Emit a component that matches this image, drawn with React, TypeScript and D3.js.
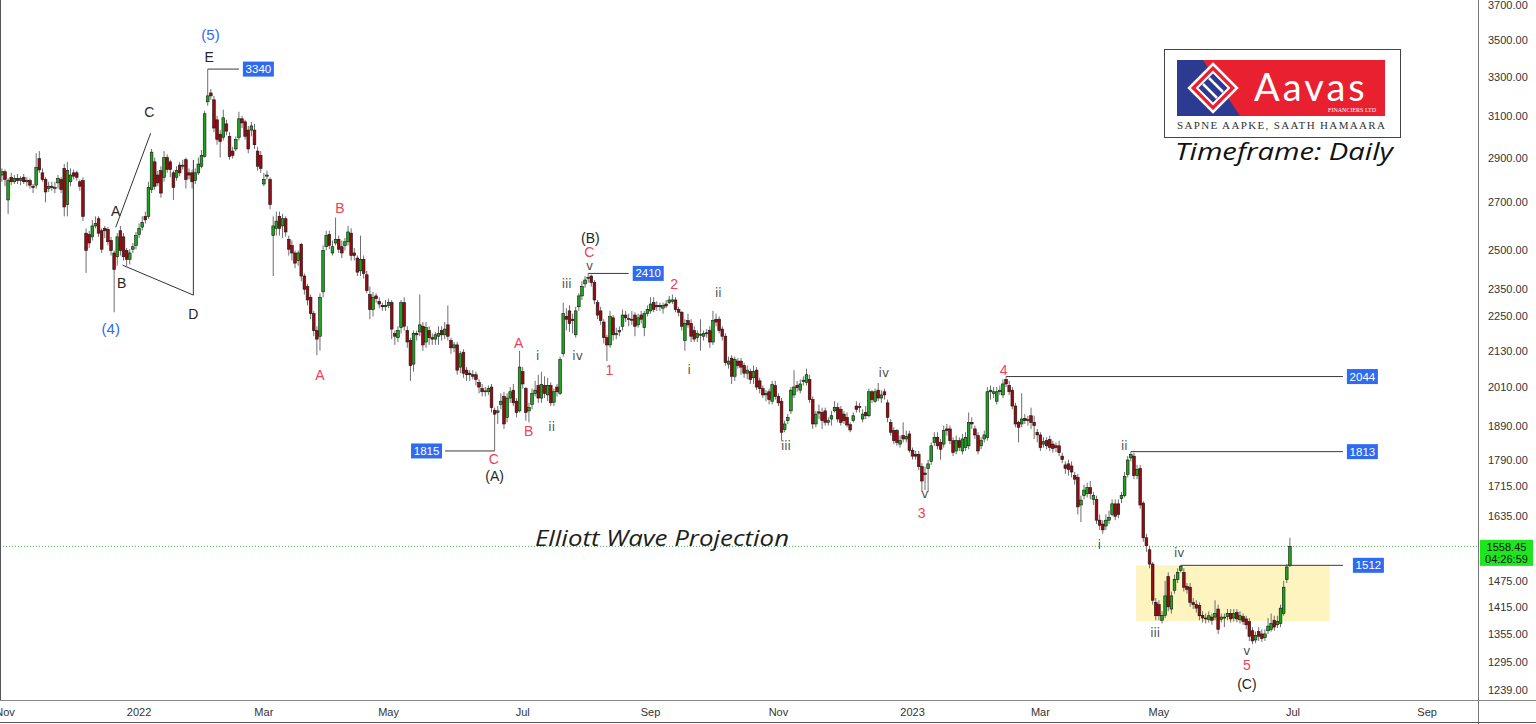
import * as d3 from 'd3'

const W = 1536
const H = 724
const PLOT_RIGHT = 1478
const AXIS_Y = 700

// daily candles [open, high, low, close]
// Nov–Dec 2021: sideways, then the first leg down
const seg1 = [
  [2820, 2850, 2790, 2835], [2835, 2845, 2770, 2800], [2710, 2805, 2650, 2795], [2810, 2830, 2775, 2790],
  [2790, 2820, 2780, 2805], [2805, 2825, 2780, 2795], [2795, 2815, 2775, 2805], [2810, 2825, 2780, 2790],
  [2790, 2810, 2770, 2795], [2795, 2805, 2760, 2775], [2770, 2780, 2740, 2765], [2775, 2920, 2760, 2855],
  [2895, 2930, 2830, 2843], [2830, 2850, 2790, 2800], [2800, 2810, 2700, 2745], [2760, 2790, 2745, 2770],
  [2770, 2790, 2750, 2765], [2760, 2790, 2740, 2765], [2785, 2820, 2760, 2805], [2800, 2810, 2740, 2755],
  [2850, 2870, 2640, 2680], [2690, 2880, 2640, 2840], [2790, 2850, 2770, 2820], [2830, 2845, 2800, 2815],
  [2830, 2840, 2795, 2810], [2790, 2800, 2750, 2770], [2795, 2810, 2620, 2640],
]
// Dec 2021 – Mar 2022: triangle, (5) top, first fall
const seg2 = [
  [2570, 2590, 2412, 2500], [2565, 2580, 2510, 2530], [2555, 2625, 2540, 2600], [2600, 2640, 2590, 2610],
  [2630, 2640, 2555, 2570], [2580, 2590, 2490, 2505], [2590, 2600, 2550, 2580], [2585, 2595, 2520, 2535],
  [2540, 2555, 2480, 2500], [2490, 2500, 2265, 2425], [2475, 2570, 2440, 2555], [2580, 2600, 2480, 2500],
  [2555, 2570, 2460, 2475], [2500, 2510, 2435, 2465], [2465, 2505, 2445, 2490], [2505, 2530, 2490, 2515],
  [2520, 2575, 2505, 2560], [2565, 2610, 2550, 2590], [2595, 2640, 2580, 2615], [2640, 2660, 2610, 2625],
  [2640, 2790, 2630, 2765], [2755, 2940, 2740, 2925], [2880, 2900, 2755, 2770], [2820, 2840, 2770, 2785],
  [2840, 2860, 2720, 2740], [2810, 2930, 2790, 2900], [2900, 2915, 2830, 2845], [2880, 2890, 2810, 2845],
  [2830, 2840, 2710, 2765], [2810, 2860, 2795, 2840], [2865, 2880, 2815, 2830], [2860, 2890, 2845, 2865],
  [2890, 2900, 2760, 2800], [2830, 2850, 2800, 2820], [2830, 2845, 2760, 2790], [2795, 2850, 2780, 2830],
  [2830, 2900, 2820, 2870], [2860, 2935, 2850, 2910], [2905, 3125, 2900, 3110], [3170, 3340, 3150, 3200],
  [3215, 3235, 3180, 3200], [3180, 3200, 3020, 3040], [3080, 3100, 2960, 2985], [3010, 3030, 2900, 2975],
  [2995, 3130, 2980, 3090], [3060, 3080, 3005, 3025], [3000, 3020, 2890, 2905], [2930, 2950, 2895, 2910],
  [2940, 3000, 2930, 2985], [2995, 3120, 2980, 3085], [3085, 3100, 3040, 3065], [3070, 3080, 2985, 3000],
  [3030, 3050, 2920, 2940], [3030, 3070, 3000, 3050], [3030, 3060, 2940, 2960], [2930, 2950, 2840, 2860],
  [2910, 2930, 2830, 2850], [2780, 2830, 2770, 2800], [2815, 2840, 2800, 2820], [2800, 2810, 2670, 2690],
]
// Mar – Jun 2022: A-B-C down to (A)
const seg3 = [
  [2560, 2640, 2400, 2600], [2590, 2660, 2560, 2620], [2640, 2660, 2560, 2590], [2600, 2650, 2550, 2630],
  [2630, 2640, 2555, 2575], [2545, 2560, 2480, 2505], [2520, 2540, 2460, 2490], [2490, 2500, 2430, 2450],
  [2460, 2500, 2440, 2490], [2525, 2530, 2380, 2400], [2400, 2410, 2330, 2350], [2360, 2370, 2290, 2310],
  [2320, 2330, 2240, 2260], [2260, 2270, 2180, 2200], [2200, 2215, 2115, 2170], [2180, 2335, 2130, 2320],
  [2340, 2520, 2320, 2500], [2515, 2580, 2500, 2560], [2565, 2580, 2505, 2520], [2490, 2540, 2480, 2515],
  [2530, 2635, 2520, 2545], [2545, 2560, 2490, 2505], [2515, 2540, 2470, 2490], [2520, 2550, 2500, 2535],
  [2535, 2600, 2520, 2575], [2570, 2590, 2460, 2480], [2490, 2510, 2460, 2480], [2470, 2480, 2400, 2415],
  [2420, 2560, 2400, 2465], [2465, 2480, 2390, 2410], [2405, 2420, 2335, 2345], [2330, 2360, 2240, 2275],
  [2275, 2340, 2250, 2320], [2325, 2335, 2300, 2315], [2305, 2320, 2280, 2295], [2290, 2300, 2270, 2285],
  [2285, 2310, 2270, 2290], [2290, 2315, 2280, 2300], [2300, 2310, 2170, 2205], [2190, 2200, 2150, 2180],
  [2175, 2215, 2160, 2200], [2210, 2310, 2190, 2300], [2300, 2320, 2200, 2215], [2200, 2215, 2140, 2160],
  [2165, 2175, 2030, 2080], [2085, 2200, 2060, 2190], [2190, 2200, 2165, 2185], [2195, 2330, 2180, 2220],
  [2215, 2230, 2130, 2150], [2160, 2230, 2140, 2210], [2200, 2215, 2150, 2175], [2175, 2190, 2150, 2170],
  [2170, 2195, 2150, 2185], [2180, 2215, 2150, 2190], [2200, 2215, 2165, 2185], [2185, 2230, 2170, 2205],
  [2220, 2290, 2165, 2180], [2165, 2175, 2120, 2140], [2140, 2160, 2125, 2150], [2150, 2160, 2050, 2065],
  [2075, 2130, 2055, 2120], [2125, 2135, 2040, 2055], [2065, 2075, 2030, 2050], [2055, 2065, 2030, 2050],
  [2050, 2065, 2035, 2045], [2050, 2060, 2015, 2035], [2025, 2035, 1990, 2010], [2005, 2020, 1980, 1995],
  [1995, 2010, 1980, 1998], [1995, 2015, 1985, 2005], [2010, 2020, 1930, 1945], [1937, 1945, 1815, 1925],
]
// Jun – Oct 2022: rally to (B), then waves 1 and 2
const seg4 = [
  [1930, 1950, 1895, 1935], [1955, 1990, 1940, 1965], [1980, 1995, 1880, 1895], [1915, 1990, 1900, 1975],
  [1975, 2010, 1960, 1995], [2000, 2020, 1950, 1960], [1965, 1975, 1915, 1930], [1935, 2130, 1930, 2075],
  [2060, 2075, 2005, 2020], [2005, 2010, 1905, 1930], [1935, 1960, 1900, 1945], [1955, 2005, 1940, 1990],
  [1990, 2030, 1980, 2000], [2015, 2050, 1960, 1975], [1975, 2060, 1960, 2018], [2015, 2045, 1975, 1990],
  [1985, 2040, 1965, 2015], [2015, 2025, 1950, 1960], [1962, 2005, 1950, 1995], [2010, 2020, 1980, 1995],
  [1990, 2110, 1985, 2100], [2120, 2300, 2110, 2260], [2250, 2280, 2200, 2240], [2270, 2290, 2195, 2225],
  [2240, 2260, 2190, 2235], [2185, 2285, 2175, 2270], [2285, 2335, 2270, 2325], [2325, 2380, 2310, 2360],
  [2370, 2400, 2355, 2385], [2390, 2410, 2375, 2395], [2400, 2405, 2360, 2375], [2375, 2385, 2295, 2310],
  [2300, 2310, 2240, 2255], [2270, 2285, 2220, 2235], [2230, 2240, 2155, 2175], [2175, 2185, 2095, 2150],
  [2150, 2270, 2140, 2250], [2245, 2255, 2165, 2185], [2185, 2210, 2170, 2190], [2195, 2215, 2180, 2200],
  [2215, 2275, 2200, 2255], [2255, 2270, 2230, 2245], [2240, 2260, 2215, 2242], [2240, 2270, 2220, 2238],
  [2255, 2265, 2180, 2215], [2220, 2260, 2210, 2245], [2255, 2270, 2225, 2240], [2210, 2270, 2180, 2260],
  [2260, 2290, 2250, 2275], [2270, 2320, 2260, 2295], [2300, 2320, 2265, 2275], [2290, 2305, 2270, 2285],
  [2290, 2300, 2270, 2285], [2280, 2300, 2260, 2290], [2295, 2310, 2280, 2288], [2300, 2325, 2295, 2310],
  [2305, 2330, 2295, 2310], [2310, 2320, 2265, 2275], [2275, 2285, 2250, 2265], [2265, 2270, 2200, 2215],
  [2165, 2240, 2130, 2225], [2235, 2260, 2210, 2220], [2225, 2240, 2160, 2180], [2200, 2215, 2160, 2170],
  [2175, 2200, 2160, 2190], [2185, 2240, 2130, 2187], [2180, 2200, 2165, 2190], [2190, 2205, 2175, 2192],
  [2200, 2215, 2140, 2160], [2160, 2270, 2150, 2235], [2240, 2260, 2215, 2230], [2240, 2250, 2190, 2200],
  [2205, 2215, 2165, 2180], [2180, 2190, 2080, 2090], [2085, 2110, 2070, 2095], [2105, 2115, 2020, 2045],
  [2045, 2110, 2030, 2100], [2095, 2105, 2070, 2080], [2095, 2105, 2050, 2075], [2080, 2090, 2040, 2055],
  [2055, 2080, 2035, 2065], [2060, 2070, 2020, 2035], [2040, 2080, 2020, 2060], [2065, 2075, 2000, 2010],
  [2030, 2040, 1990, 2005], [2005, 2015, 1975, 1985], [1985, 2000, 1965, 1990], [1995, 2005, 1955, 1970],
  [1965, 2030, 1955, 2018], [2015, 2030, 1970, 1980], [1980, 1990, 1950, 1960], [1965, 1975, 1845, 1870],
]
// Oct 2022 – Feb 2023: wave 3 low and wave 4 top
const seg5 = [
  [1878, 1905, 1870, 1895], [1905, 1925, 1895, 1915], [1935, 2010, 1925, 2000], [1985, 2065, 1975, 2010],
  [2015, 2030, 1995, 2008], [2000, 2035, 1990, 2020], [2028, 2045, 2015, 2032], [2025, 2070, 2015, 2050],
  [2035, 2050, 1960, 1970], [1970, 1980, 1880, 1895], [1895, 1935, 1885, 1925], [1932, 1955, 1910, 1928],
  [1930, 1945, 1880, 1905], [1935, 1945, 1890, 1900], [1900, 1915, 1890, 1905], [1910, 1935, 1890, 1920],
  [1935, 1965, 1930, 1945], [1945, 1960, 1900, 1910], [1940, 1950, 1890, 1900], [1925, 1935, 1895, 1905],
  [1915, 1930, 1885, 1892], [1893, 1900, 1870, 1877], [1905, 1930, 1900, 1920], [1950, 1965, 1930, 1940],
  [1945, 1960, 1930, 1948], [1910, 1940, 1900, 1925], [1930, 1950, 1910, 1920], [1920, 2005, 1915, 1995],
  [1995, 2000, 1960, 1970], [1965, 2005, 1960, 1995], [2000, 2023, 1965, 1975], [1975, 2000, 1960, 1985],
  [1995, 2005, 1970, 1985], [1960, 1970, 1900, 1915], [1900, 1910, 1860, 1870], [1875, 1885, 1835, 1845],
  [1875, 1880, 1830, 1840], [1835, 1860, 1825, 1845], [1860, 1900, 1840, 1850], [1850, 1875, 1840, 1858],
  [1865, 1875, 1810, 1817], [1817, 1825, 1790, 1800], [1805, 1815, 1790, 1800], [1805, 1815, 1760, 1770],
  [1770, 1780, 1700, 1730], [1752, 1770, 1705, 1748], [1765, 1790, 1700, 1778], [1785, 1840, 1775, 1830],
  [1840, 1870, 1830, 1855], [1855, 1870, 1820, 1830], [1840, 1850, 1790, 1820], [1835, 1890, 1825, 1875],
  [1880, 1895, 1860, 1875], [1880, 1890, 1835, 1845], [1845, 1855, 1800, 1810], [1815, 1860, 1805, 1845],
  [1845, 1855, 1815, 1825], [1815, 1865, 1805, 1850], [1825, 1870, 1815, 1855], [1830, 1930, 1820, 1900],
  [1900, 1915, 1880, 1895], [1880, 1890, 1850, 1862], [1860, 1870, 1805, 1815], [1830, 1855, 1820, 1845],
  [1850, 1875, 1840, 1862], [1855, 2010, 1845, 1995], [1995, 2015, 1970, 2000], [1990, 2010, 1975, 1995],
  [1965, 2010, 1955, 1995], [1995, 2015, 1985, 2000], [1985, 2035, 1975, 2020], [2035, 2044, 2010, 2020],
]
// Feb – Jun 2023: wave 5 into (C) and the bounce
const seg6 = [
  [2015, 2030, 1985, 1995], [2000, 2010, 1940, 1950], [1950, 1960, 1885, 1895], [1900, 1905, 1840, 1885],
  [1895, 1990, 1885, 1910], [1912, 1925, 1895, 1905], [1905, 1920, 1890, 1908], [1920, 1945, 1880, 1900],
  [1900, 1920, 1850, 1890], [1870, 1880, 1840, 1862], [1862, 1870, 1815, 1825], [1835, 1855, 1825, 1842],
  [1845, 1855, 1820, 1830], [1848, 1860, 1815, 1825], [1835, 1845, 1810, 1822], [1830, 1840, 1812, 1825],
  [1830, 1845, 1800, 1810], [1800, 1810, 1780, 1790], [1775, 1785, 1750, 1765], [1778, 1790, 1745, 1762],
  [1772, 1785, 1740, 1755], [1745, 1755, 1720, 1735], [1740, 1750, 1640, 1660], [1665, 1690, 1620, 1678],
  [1690, 1720, 1680, 1705], [1695, 1725, 1685, 1712], [1712, 1730, 1680, 1695], [1680, 1700, 1665, 1690],
  [1680, 1690, 1615, 1625], [1625, 1640, 1600, 1612], [1615, 1625, 1590, 1600], [1610, 1640, 1600, 1625],
  [1625, 1650, 1615, 1632], [1640, 1680, 1635, 1668], [1668, 1680, 1625, 1635], [1668, 1680, 1630, 1640],
  [1682, 1700, 1670, 1690], [1690, 1755, 1685, 1742], [1748, 1800, 1740, 1789], [1795, 1813, 1785, 1805],
  [1800, 1810, 1735, 1745], [1745, 1775, 1735, 1762], [1765, 1775, 1655, 1665], [1670, 1675, 1570, 1580],
  [1580, 1590, 1545, 1560], [1550, 1560, 1505, 1515], [1515, 1520, 1420, 1430], [1425, 1435, 1385, 1395],
  [1420, 1430, 1385, 1395], [1385, 1405, 1378, 1396], [1396, 1475, 1390, 1440], [1485, 1495, 1405, 1415],
  [1410, 1450, 1400, 1440], [1453, 1490, 1445, 1478], [1478, 1505, 1470, 1495], [1500, 1512, 1495, 1510],
  [1495, 1505, 1450, 1460], [1462, 1470, 1445, 1455], [1460, 1470, 1415, 1425], [1425, 1435, 1410, 1420],
  [1420, 1430, 1402, 1412], [1418, 1425, 1385, 1395], [1396, 1405, 1380, 1390], [1390, 1400, 1378, 1388],
  [1387, 1405, 1380, 1395], [1392, 1400, 1375, 1385], [1392, 1430, 1385, 1400], [1410, 1420, 1355, 1365],
  [1387, 1400, 1380, 1392], [1390, 1400, 1370, 1392], [1393, 1410, 1385, 1400], [1400, 1410, 1380, 1388],
  [1390, 1410, 1382, 1400], [1402, 1410, 1380, 1388], [1386, 1405, 1378, 1395], [1393, 1400, 1375, 1382],
  [1388, 1395, 1365, 1375], [1382, 1390, 1340, 1350], [1362, 1370, 1333, 1340], [1342, 1360, 1335, 1352],
  [1360, 1370, 1340, 1350], [1355, 1365, 1338, 1345], [1347, 1365, 1340, 1355], [1362, 1390, 1355, 1372],
  [1365, 1400, 1360, 1378], [1385, 1395, 1362, 1370], [1375, 1395, 1368, 1382], [1378, 1420, 1370, 1412],
  [1400, 1475, 1395, 1460], [1478, 1515, 1470, 1508], [1512, 1580, 1508, 1558.45],
]

const firstDay = '2021-10-29'
const lastDay = '2023-09-29'
// NSE weekday holidays in the span
const holidays = [
  '2021-11-05', '2021-11-19', '2022-01-26', '2022-03-01', '2022-03-18', '2022-04-14', '2022-04-15',
  '2022-05-03', '2022-08-09', '2022-08-15', '2022-08-31', '2022-10-05', '2022-10-26', '2022-11-08',
  '2023-01-26', '2023-03-07', '2023-03-30', '2023-04-04', '2023-04-07', '2023-04-14', '2023-05-01',
  '2023-06-29', '2023-08-15', '2023-09-19',
]

const priceTicks = [3700, 3500, 3300, 3100, 2900, 2700, 2500, 2350, 2250, 2130, 2010, 1890, 1790, 1715, 1635, 1475, 1415, 1355, 1295, 1239]
const lastPrice = 1558.45
const countdown = '04:26:59'

// wave labels: text, candle position, price, style
const waveLabels = [
  { t: '(5)', i: 66.9, p: 3527, k: 'blue' },
  { t: '(4)', i: 34.9, p: 2208, k: 'blue' },
  { t: 'E', i: 66.5, p: 3405, k: 'black' },
  { t: 'C', i: 47.3, p: 3119, k: 'black' },
  { t: 'A', i: 36.5, p: 2663, k: 'black' },
  { t: 'B', i: 38.4, p: 2373, k: 'black' },
  { t: 'D', i: 61.4, p: 2258, k: 'black' },
  { t: '(A)', i: 158, p: 1743, k: 'black' },
  { t: '(B)', i: 188.7, p: 2550, k: 'black' },
  { t: '(C)', i: 399.2, p: 1251, k: 'black' },
  { t: 'A', i: 102, p: 2049, k: 'red' },
  { t: 'B', i: 108.4, p: 2675, k: 'red' },
  { t: 'A', i: 165.7, p: 2156, k: 'red' },
  { t: 'B', i: 168.9, p: 1874, k: 'red' },
  { t: 'C', i: 157.7, p: 1792, k: 'red' },
  { t: 'C', i: 188.4, p: 2494, k: 'red' },
  { t: '1', i: 194.8, p: 2065, k: 'red' },
  { t: '2', i: 215.6, p: 2369, k: 'red' },
  { t: '3', i: 294.9, p: 1643, k: 'red' },
  { t: '4', i: 321.2, p: 2065, k: 'red' },
  { t: '5', i: 399.2, p: 1290, k: 'red' },
  { t: 'i', i: 171.8, p: 2112, k: 'gray' },
  { t: 'ii', i: 176.3, p: 1885, k: 'gray' },
  { t: 'iii', i: 181.1, p: 2369, k: 'gray' },
  { t: 'iv', i: 184.6, p: 2112, k: 'gray' },
  { t: 'v', i: 188.4, p: 2438, k: 'gray' },
  { t: 'i', i: 220.4, p: 2065, k: 'gray' },
  { t: 'ii', i: 229.7, p: 2336, k: 'gray' },
  { t: 'iii', i: 251.4, p: 1829, k: 'gray' },
  { t: 'iv', i: 282.8, p: 2055, k: 'gray' },
  { t: 'v', i: 295.9, p: 1694, k: 'gray' },
  { t: 'i', i: 351.9, p: 1562, k: 'gray' },
  { t: 'ii', i: 359.9, p: 1829, k: 'gray' },
  { t: 'iii', i: 369.8, p: 1357, k: 'gray' },
  { t: 'iv', i: 377.5, p: 1542, k: 'gray' },
  { t: 'v', i: 399.2, p: 1318, k: 'gray' },
]

// price levels drawn from a pivot candle out to a tag
const levels = [
  { v: 3340, from: 66, to: 76, side: 'right', gap: 4 },
  { v: 2410, from: 188, to: 201, side: 'right', gap: 4 },
  { v: 1815, from: 158, to: 142.1, side: 'left', gap: 3 },
  { v: 2044, from: 322, to: 430, side: 'right', gap: 4 },
  { v: 1813, from: 362, to: 430, side: 'right', gap: 4 },
  { v: 1512, from: 378, to: 430, side: 'right', gap: 10 },
]

// A-B-C-D-E triangle lines [candle, price]
const triangle = [
  [[36.5, 2594], [47.7, 3015]],
  [[38.7, 2442], [61.4, 2328]],
  [[61.4, 2328], [61.4, 2889]],
]

// target zone (yellow box)
const zone = { from: 363.7, to: 425.8, top: 1512, bottom: 1383 }

const labelStyle: Record<string, { fill: string; size: number; family: string }> = {
  blue: { fill: '#2f6bf2', size: 15, family: 'Liberation Sans, Arial, sans-serif' },
  black: { fill: '#262626', size: 14, family: 'Liberation Sans, Arial, sans-serif' },
  red: { fill: '#f2405a', size: 14, family: 'Liberation Sans, Arial, sans-serif' },
  gray: { fill: '#4a4a4a', size: 12, family: 'DejaVu Sans, sans-serif' },
}

const fmtDay = d3.utcFormat('%Y-%m-%d')
const parseDay = d3.utcParse('%Y-%m-%d')

function tradingDays() {
  const skip = new Set(holidays)
  const start = parseDay(firstDay)!
  const end = d3.utcDay.offset(parseDay(lastDay)!, 1)
  return d3.utcDay
    .range(start, end)
    .filter((d) => d.getUTCDay() !== 0 && d.getUTCDay() !== 6 && !skip.has(fmtDay(d)))
}

export default function App() {
  const days = tradingDays()
  const candles = [...seg1, ...seg2, ...seg3, ...seg4, ...seg5, ...seg6].map(([o, h, l, c], i) => ({ i, o, h, l, c }))

  const julIdx = days.findIndex((d) => fmtDay(d) === '2023-07-03')
  const x = d3.scaleLinear().domain([1, julIdx]).range([5, 1293])
  const y = d3.scaleLog().domain([1239, 3700]).range([690, 5])

  // TradingView shows every second month here, the year instead of January
  const monthTicks = days
    .map((d, i) => ({ d, i }))
    .filter(({ d, i }) => i > 0 && d.getUTCMonth() !== days[i - 1].getUTCMonth() && d.getUTCMonth() % 2 === 0)
    .map(({ d, i }) => ({
      x: x(i),
      label: d.getUTCMonth() === 0 ? d3.utcFormat('%Y')(d) : d3.utcFormat('%b')(d),
    }))
    .filter((t) => t.x < PLOT_RIGHT - 10)

  const bodyW = 2.7
  const sans = 'Liberation Sans, Arial, sans-serif'
  const italic = 'Open Sans, DejaVu Sans, sans-serif'

  return (
    <div>
      <style>{'body{margin:0;background:#fff}'}</style>
      <svg width={W} height={H} style={{ display: 'block', fontFamily: sans }}>
        <rect width={W} height={H} fill="#fff" />

        {/* yellow zone */}
        <rect
          x={x(zone.from)}
          y={y(zone.top)}
          width={x(zone.to) - x(zone.from)}
          height={y(zone.bottom) - y(zone.top)}
          fill="#fdf4c0"
        />

        {/* last price line */}
        <line x1={0} x2={PLOT_RIGHT} y1={y(lastPrice)} y2={y(lastPrice)} stroke="#43b049" strokeDasharray="1 2" />

        {/* triangle */}
        {triangle.map(([a, b], k) => (
          <line key={k} x1={x(a[0])} y1={y(a[1])} x2={x(b[0])} y2={y(b[1])} stroke="#333" strokeWidth={1} />
        ))}

        {/* candles */}
        <g>
          {candles.map((d) => {
            const cx = x(d.i)
            const up = d.c >= d.o
            const top = y(Math.max(d.o, d.c))
            const bot = y(Math.min(d.o, d.c))
            return (
              <g key={d.i}>
                <line x1={cx} x2={cx} y1={y(d.h)} y2={y(d.l)} stroke="#6e6e6e" strokeWidth={1} />
                <rect
                  x={cx - bodyW / 2}
                  y={top}
                  width={bodyW}
                  height={Math.max(1, bot - top)}
                  fill={up ? '#1ba51b' : '#9c0a10'}
                  stroke="#141414"
                  strokeWidth={0.6}
                />
              </g>
            )
          })}
        </g>

        {/* price levels */}
        {levels.map((lv) => {
          const ly = y(lv.v)
          const x1 = x(lv.from)
          const x2 = x(lv.to)
          const bw = 31
          const bx = lv.side === 'right' ? x2 + lv.gap : x2 - lv.gap - bw
          return (
            <g key={lv.v}>
              <line x1={x1} x2={x2} y1={ly} y2={ly} stroke="#3a3a3a" strokeWidth={1} />
              <rect x={bx} y={ly - 7.5} width={bw} height={15} fill="#2f6bf2" />
              <text x={bx + bw / 2} y={ly} textAnchor="middle" dominantBaseline="central" fontSize={11.5} fill="#fff">
                {lv.v}
              </text>
            </g>
          )
        })}

        {/* wave labels */}
        {waveLabels.map((w, k) => {
          const s = labelStyle[w.k]
          return (
            <text
              key={k}
              x={x(w.i)}
              y={y(w.p)}
              textAnchor="middle"
              dominantBaseline="central"
              fontSize={s.size}
              fill={s.fill}
              fontFamily={s.family}
            >
              {w.t}
            </text>
          )
        })}

        {/* captions */}
        <text
          x={535}
          y={546}
          fontSize={22}
          fontStyle="italic"
          fill="#1e1e1e"
          fontFamily={italic}
          textLength={254}
          lengthAdjust="spacingAndGlyphs"
        >
          Elliott Wave Projection
        </text>
        <text
          x={1175}
          y={160}
          fontSize={24}
          fontStyle="italic"
          fill="#111"
          fontFamily={italic}
          textLength={218}
          lengthAdjust="spacingAndGlyphs"
        >
          Timeframe: Daily
        </text>

        {/* logo */}
        <g>
          <rect x={1164.5} y={49.5} width={236} height={88} fill="#fff" stroke="#444" />
          <rect x={1177} y={60} width={208} height={56} fill="#e8202f" />
          <polygon points="1177,60 1203,60 1240,116 1177,116" fill="#2c3a92" />
          <polygon points="1213,64 1237,88 1213,112 1189,88" fill="#e8202f" stroke="#fff" strokeWidth={2.5} />
          <polygon points="1213,72 1229,88 1213,104 1197,88" fill="#2c3a92" stroke="#fff" strokeWidth={2} />
          <line x1={1203} y1={84} x2={1217} y2={98} stroke="#fff" strokeWidth={2.5} />
          <line x1={1209} y1={78} x2={1223} y2={92} stroke="#fff" strokeWidth={2.5} />
          <text x={1254} y={101} fontSize={38} fill="#fff" fontFamily="Lato, sans-serif" letterSpacing={3}>
            Aavas
          </text>
          <text x={1376} y={112} fontSize={6} fill="#fff" textAnchor="end" fontFamily="Liberation Serif, serif">
            FINANCIERS LTD
          </text>
          <text x={1177} y={129} fontSize={11} fill="#333" fontFamily="Liberation Serif, serif" textLength={208}>
            SAPNE AAPKE, SAATH HAMAARA
          </text>
        </g>

        {/* frame */}
        <line x1={0.5} x2={0.5} y1={0} y2={AXIS_Y} stroke="#555" />
        <line x1={PLOT_RIGHT + 0.5} x2={PLOT_RIGHT + 0.5} y1={0} y2={H} stroke="#777" />
        <line x1={0} x2={W} y1={AXIS_Y + 0.5} y2={AXIS_Y + 0.5} stroke="#888" />
        <line x1={0} x2={W} y1={H - 1.5} y2={H - 1.5} stroke="#555" />

        {/* price axis */}
        {priceTicks.map((p) => (
          <text key={p} x={1488} y={y(p)} dominantBaseline="central" fontSize={11} fill="#333">
            {p.toFixed(2)}
          </text>
        ))}
        <rect x={1480} y={y(lastPrice) - 6.5} width={53} height={26} fill="#1ee61e" />
        <text x={1506.5} y={y(lastPrice) + 0.5} textAnchor="middle" dominantBaseline="central" fontSize={11} fill="#111">
          {lastPrice.toFixed(2)}
        </text>
        <text x={1506.5} y={y(lastPrice) + 12.5} textAnchor="middle" dominantBaseline="central" fontSize={11} fill="#111">
          {countdown}
        </text>

        {/* time axis */}
        {monthTicks.map((t, k) => (
          <text key={k} x={t.x} y={712} textAnchor="middle" dominantBaseline="central" fontSize={11} fill="#333">
            {t.label}
          </text>
        ))}
      </svg>
    </div>
  )
}
